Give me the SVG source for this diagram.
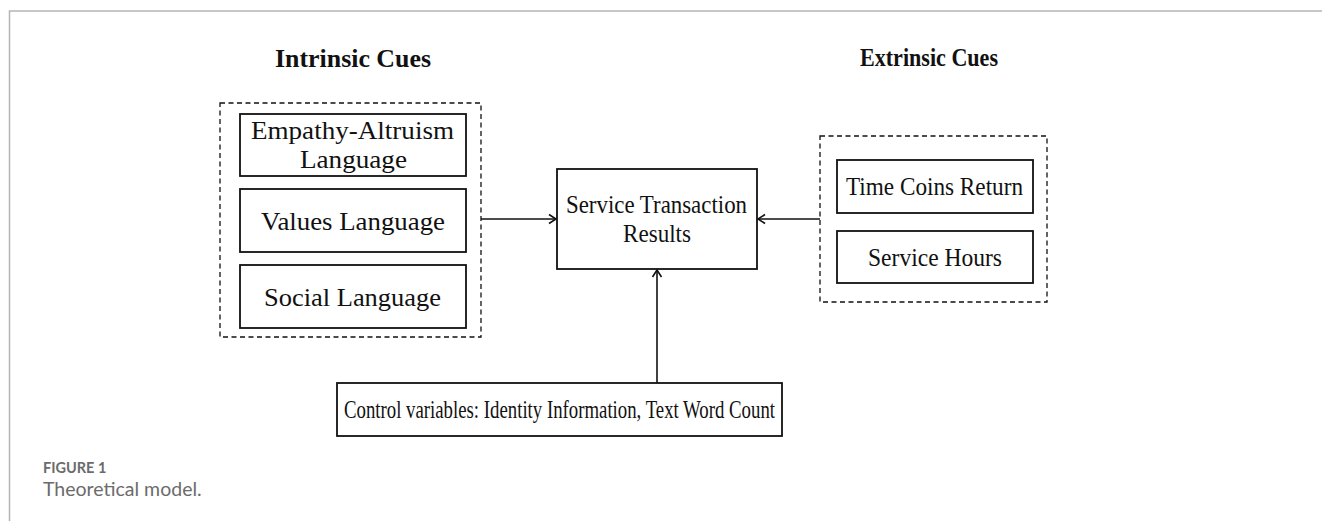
<svg xmlns="http://www.w3.org/2000/svg" width="1322" height="521" viewBox="0 0 1322 521">
<defs>
<style>
.box{fill:#fff;stroke:#111;stroke-width:1.8}
.dash{fill:none;stroke:#111;stroke-width:1.3;stroke-dasharray:5 3.5}
.t{font-family:"Liberation Serif","Times New Roman",serif;font-size:26px;fill:#111;text-anchor:middle}
.h{font-family:"Liberation Serif","Times New Roman",serif;font-size:26px;font-weight:bold;fill:#111;text-anchor:middle}
.conn{fill:none;stroke:#111;stroke-width:1.6}
.cap1{font-family:Lato,"Open Sans",sans-serif;font-size:14.5px;font-weight:bold;fill:#6b6b6b}
.cap2{font-family:Lato,"Open Sans",sans-serif;font-size:19.5px;fill:#6b6b6b}
</style>
<marker id="arr" markerWidth="12" markerHeight="12" refX="9" refY="6" orient="auto" markerUnits="userSpaceOnUse">
<path d="M2,1.5 L9,6 L2,10.5" fill="none" stroke="#111" stroke-width="1.6"/>
</marker>
</defs>
<rect width="1322" height="521" fill="#fff"/>
<path d="M9.5,521 L9.5,11 L1322,11" fill="none" stroke="#b5b5b5" stroke-width="1.5"/>

<g id="intrinsic-title"><text class="h" x="353" y="67" textLength="156" lengthAdjust="spacingAndGlyphs">Intrinsic Cues</text></g>
<g id="extrinsic-title"><text class="h" x="929" y="66" textLength="138" lengthAdjust="spacingAndGlyphs">Extrinsic Cues</text></g>

<g id="intrinsic-group"><rect class="dash" x="220" y="103" width="261" height="234"/></g>
<g id="empathy"><rect class="box" x="240" y="114" width="226" height="62"/>
<text class="t" x="352.5" y="139" textLength="203" lengthAdjust="spacingAndGlyphs">Empathy-Altruism</text><text class="t" x="353.5" y="168" textLength="107" lengthAdjust="spacingAndGlyphs">Language</text></g>
<g id="values"><rect class="box" x="240" y="189" width="226" height="63"/>
<text class="t" x="353" y="230" textLength="184" lengthAdjust="spacingAndGlyphs">Values Language</text></g>
<g id="social"><rect class="box" x="240" y="265" width="226" height="63"/>
<text class="t" x="352.5" y="306" textLength="177" lengthAdjust="spacingAndGlyphs">Social Language</text></g>

<g id="result"><rect class="box" x="557" y="169" width="200" height="100"/>
<text class="t" x="656.5" y="213" textLength="181" lengthAdjust="spacingAndGlyphs">Service Transaction</text><text class="t" x="657" y="242" textLength="68" lengthAdjust="spacingAndGlyphs">Results</text></g>

<g id="extrinsic-group"><rect class="dash" x="820" y="136" width="227" height="166"/></g>
<g id="timecoins"><rect class="box" x="837" y="160" width="196" height="53"/>
<text class="t" x="934.5" y="195" textLength="177" lengthAdjust="spacingAndGlyphs">Time Coins Return</text></g>
<g id="hours"><rect class="box" x="837" y="231" width="196" height="52"/>
<text class="t" x="935" y="266" textLength="134" lengthAdjust="spacingAndGlyphs">Service Hours</text></g>

<g id="control"><rect class="box" x="337" y="383" width="445" height="53"/>
<text class="t" x="559.5" y="418" textLength="431" lengthAdjust="spacingAndGlyphs">Control variables: Identity Information, Text Word Count</text></g>

<g id="connectors">
<line class="conn" x1="481" y1="219" x2="556" y2="219" marker-end="url(#arr)"/>
<line class="conn" x1="820" y1="219" x2="758" y2="219" marker-end="url(#arr)"/>
<line class="conn" x1="657" y1="383" x2="657" y2="270" marker-end="url(#arr)"/>
</g>

<g id="caption">
<text class="cap1" x="43" y="473">FIGURE 1</text>
<text class="cap2" x="43" y="496">Theoretical model.</text>
</g>
</svg>
